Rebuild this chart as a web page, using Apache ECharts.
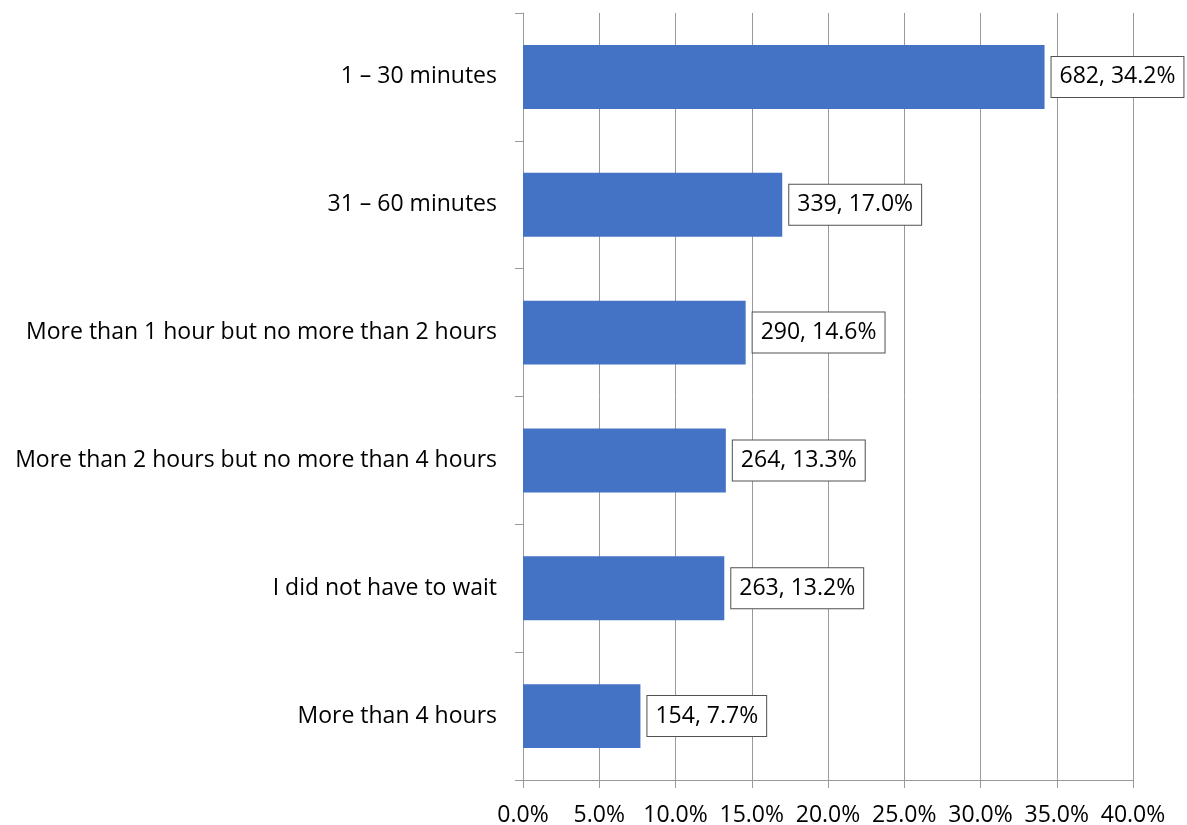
<!DOCTYPE html>
<html>
<head>
<meta charset="utf-8">
<script src="https://cdn.jsdelivr.net/npm/echarts@6/dist/echarts.min.js"></script>
<style>html,body{margin:0;padding:0;background:#fff}#c{width:1187px;height:825px}</style>
</head>
<body>
<div id="c"></div>
<script>
const categories = ["1 – 30 minutes","31 – 60 minutes","More than 1 hour but no more than 2 hours","More than 2 hours but no more than 4 hours","I did not have to wait","More than 4 hours"];
const counts = [682, 339, 290, 264, 263, 154];
const percents = [34.2, 17.0, 14.6, 13.3, 13.2, 7.7];
const xTicks = [0, 5, 10, 15, 20, 25, 30, 35, 40];

const FONT = 'Open Sans';
const FS = 23;
const chart = echarts.init(document.getElementById('c'));
chart.setOption({
  animation: false,
  grid: {left: 523, right: 54, top: 13, bottom: 45, containLabel: false, outerBoundsMode: 'none'},
  xAxis: {
    type: 'value', min: xTicks[0], max: xTicks[xTicks.length-1], interval: 5,
    axisLine: {show: true, lineStyle: {color: '#9a9a9a', width: 1}},
    axisTick: {show: true, length: 8, lineStyle: {color: '#9a9a9a'}},
    splitLine: {show: true, lineStyle: {color: '#9a9a9a', width: 1}},
    axisLabel: {margin: 24, fontFamily: FONT, fontSize: FS, color: '#000', formatter: v => v.toFixed(1) + '%'}
  },
  yAxis: {
    type: 'category', data: categories, inverse: true,
    axisLine: {show: true, lineStyle: {color: '#9a9a9a', width: 1}},
    axisTick: {show: true, length: 8, lineStyle: {color: '#9a9a9a'}},
    axisLabel: {margin: 26, fontFamily: FONT, fontSize: FS, color: '#000'}
  },
  series: [{
    type: 'bar', data: percents, barWidth: '50%',
    itemStyle: {color: '#4472C4'},
    label: {
      show: true, position: 'right', distance: 7,
      fontFamily: FONT, fontSize: FS, color: '#000',
      backgroundColor: '#fff', borderColor: '#505050', borderWidth: 1,
      padding: [9, 8, 8, 8],
      formatter: p => counts[p.dataIndex] + ', ' + percents[p.dataIndex].toFixed(1) + '%'
    }
  }]
});
</script>
</body>
</html>
